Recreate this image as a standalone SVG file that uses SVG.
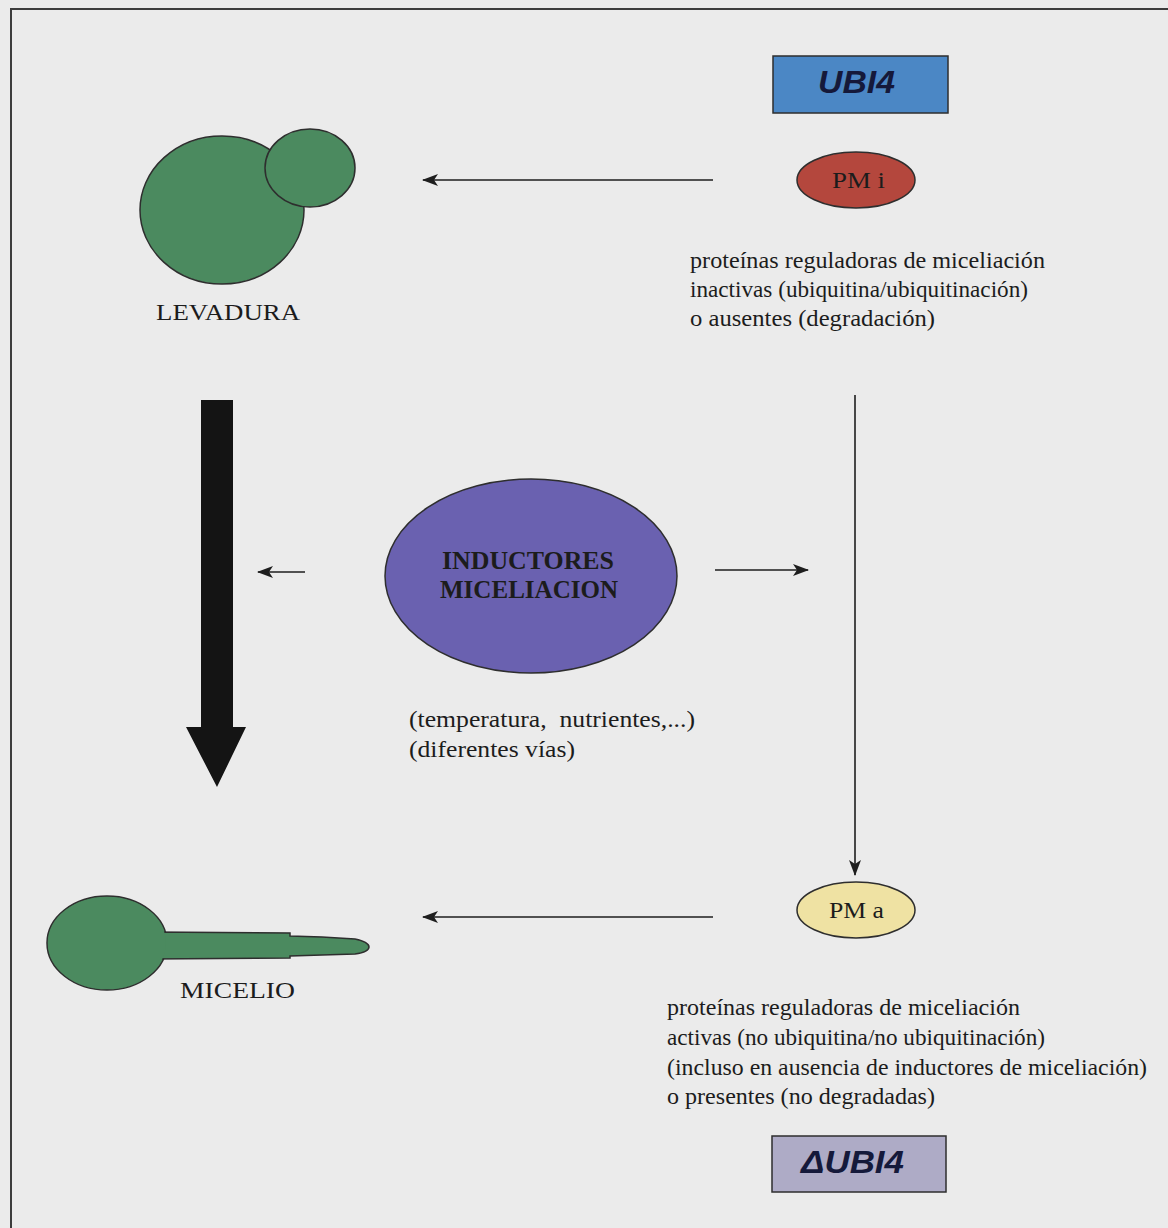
<svg xmlns="http://www.w3.org/2000/svg" width="1168" height="1228" viewBox="0 0 1168 1228">
  <defs>
    <marker id="head" viewBox="0 0 16 12" refX="15" refY="6" markerWidth="16" markerHeight="12" markerUnits="userSpaceOnUse" orient="auto">
      <path d="M0,0 L16,6 L0,12 L4,6 Z" fill="#1e1e1e"/>
    </marker>
    <style>
      .serif { font-family: "Liberation Serif", "DejaVu Serif", serif; fill: #1c1c1c; }
      .gene { font-family: "Liberation Sans", Arial, sans-serif; font-weight: bold; font-style: italic; fill: #15193a; }
      .shape { stroke: #2e2e2e; stroke-width: 1.5; }
      .conn { stroke: #1e1e1e; stroke-width: 1.6; fill: none; marker-end: url(#head); }
    </style>
  </defs>

  <!-- page background and frame -->
  <rect x="0" y="0" width="1168" height="1228" fill="#ebebeb"/>
  <path d="M11,1228 L11,9 L1168,9" fill="none" stroke="#3c3c3c" stroke-width="2"/>

  <!-- connectors -->
  <g id="connectors">
    <line class="conn" x1="713" y1="180" x2="423" y2="180"/>
    <line class="conn" x1="305" y1="572" x2="258" y2="572"/>
    <line class="conn" x1="715" y1="570" x2="808" y2="570"/>
    <line class="conn" x1="855" y1="395" x2="855" y2="875"/>
    <line class="conn" x1="713" y1="917" x2="423" y2="917"/>
    <polygon id="big-arrow" points="201,400 233,400 233,727 246,727 217,787 186,727 201,727" fill="#141414"/>
  </g>

  <!-- UBI4 gene box -->
  <g id="ubi4">
    <rect class="shape" x="773" y="56" width="175" height="57" fill="#4b87c5"/>
    <text class="gene" x="818" y="93" font-size="31" textLength="77" lengthAdjust="spacingAndGlyphs">UBI4</text>
  </g>

  <!-- inactive regulator proteins -->
  <g id="pm-i">
    <ellipse class="shape" cx="856" cy="180" rx="59" ry="28" fill="#b4473d"/>
    <text class="serif" x="832" y="188" font-size="23" textLength="53" lengthAdjust="spacingAndGlyphs">PM i</text>
  </g>

  <!-- yeast cell with bud -->
  <g id="levadura">
    <ellipse class="shape" cx="222" cy="210" rx="82" ry="74" fill="#4b8a5f"/>
    <ellipse class="shape" cx="310" cy="168" rx="45" ry="39" fill="#4b8a5f"/>
    <text class="serif" x="156" y="320" font-size="23" textLength="144" lengthAdjust="spacingAndGlyphs">LEVADURA</text>
  </g>

  <!-- notes on inactive state -->
  <g id="nota-inactivas" class="serif" font-size="23">
    <text x="690" y="268" textLength="355" lengthAdjust="spacingAndGlyphs">proteínas reguladoras de miceliación</text>
    <text x="690" y="297" textLength="338" lengthAdjust="spacingAndGlyphs">inactivas (ubiquitina/ubiquitinación)</text>
    <text x="690" y="326" textLength="245" lengthAdjust="spacingAndGlyphs">o ausentes (degradación)</text>
  </g>

  <!-- mycelium inducers -->
  <g id="inductores">
    <ellipse class="shape" cx="531" cy="576" rx="146" ry="97" fill="#6a61b0"/>
    <text class="serif" x="442" y="569" font-size="26" font-weight="bold" fill="#1a1a2c" textLength="172" lengthAdjust="spacingAndGlyphs">INDUCTORES</text>
    <text class="serif" x="440" y="598" font-size="26" font-weight="bold" fill="#1a1a2c" textLength="178" lengthAdjust="spacingAndGlyphs">MICELIACION</text>
  </g>

  <g id="nota-inductores" class="serif" font-size="23">
    <text x="409" y="727" style="white-space:pre" textLength="286" lengthAdjust="spacingAndGlyphs">(temperatura,  nutrientes,...)</text>
    <text x="409" y="757" textLength="166" lengthAdjust="spacingAndGlyphs">(diferentes vías)</text>
  </g>

  <!-- active regulator proteins -->
  <g id="pm-a">
    <ellipse class="shape" cx="856" cy="910" rx="59" ry="28" fill="#efe2a3"/>
    <text class="serif" x="829" y="918" font-size="23" textLength="55" lengthAdjust="spacingAndGlyphs">PM a</text>
  </g>

  <!-- hyphal form -->
  <g id="micelio">
    <ellipse class="shape" cx="107" cy="943" rx="60" ry="47" fill="#4b8a5f"/>
    <path class="shape" d="M150,932 L290,933 L290,936 L322,937 L355,939 Q369,942 369,947 Q369,952 355,954 L322,955 L290,956 L290,958 L150,959 Z" fill="#4b8a5f"/>
    <ellipse cx="107" cy="943" rx="59" ry="46" fill="#4b8a5f"/>
    <text class="serif" x="180" y="998" font-size="23" textLength="115" lengthAdjust="spacingAndGlyphs">MICELIO</text>
  </g>

  <!-- notes on active state -->
  <g id="nota-activas" class="serif" font-size="23">
    <text x="667" y="1015" textLength="353" lengthAdjust="spacingAndGlyphs">proteínas reguladoras de miceliación</text>
    <text x="667" y="1045" textLength="378" lengthAdjust="spacingAndGlyphs">activas (no ubiquitina/no ubiquitinación)</text>
    <text x="667" y="1075" textLength="480" lengthAdjust="spacingAndGlyphs">(incluso en ausencia de inductores de miceliación)</text>
    <text x="667" y="1104" textLength="268" lengthAdjust="spacingAndGlyphs">o presentes (no degradadas)</text>
  </g>

  <!-- deleted UBI4 box -->
  <g id="delta-ubi4">
    <rect class="shape" x="772" y="1136" width="174" height="56" fill="#aeabc6"/>
    <text class="gene" x="801" y="1173" font-size="31" textLength="103" lengthAdjust="spacingAndGlyphs">ΔUBI4</text>
  </g>
</svg>
